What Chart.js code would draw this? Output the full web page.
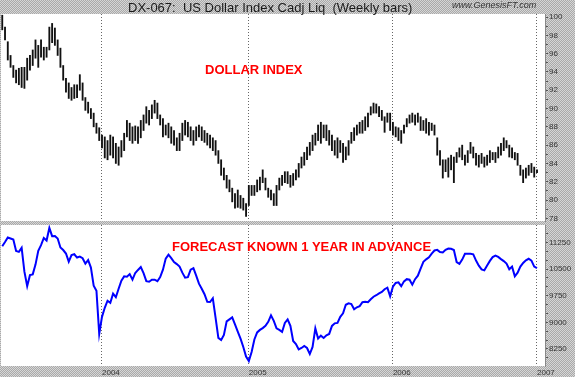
<!DOCTYPE html>
<html lang="en">
<head>
<meta charset="UTF-8" />
<title>DX-067 US Dollar Index</title>
<script src="https://cdn.jsdelivr.net/npm/chart.js"></script>
<style>
  html, body { margin: 0; padding: 0; }
  body {
    width: 575px;
    height: 377px;
    position: relative;
    overflow: hidden;
    background: repeating-conic-gradient(#a9a9a9 0 25%, #d6d6d6 0 50%) 0 0 / 2px 2px;
    font-family: "Liberation Sans", Arial, sans-serif;
  }
  canvas { position: absolute; left: 0; }
  #topChart { top: 0; }
  #bottomChart { top: 217px; }
  .txt { position: absolute; white-space: pre; line-height: 13px; z-index: 5; }
  #title { left: 128px; top: 1px; font-size: 13px; color: #1a1a1a; }
  #site { left: 452px; top: 1px; font-size: 9px; font-style: italic; color: #333; line-height: 9px; }
  .red { color: #f00; font-weight: bold; font-size: 13px; }
  #lab1 { left: 205px; top: 63px; }
  #lab2 { left: 172px; top: 240px; }
</style>
</head>
<body>
  <canvas id="topChart" width="575" height="230"></canvas>
  <canvas id="bottomChart" width="575" height="160"></canvas>
  <div class="txt" id="title">DX-067:  US Dollar Index Cadj Liq  (Weekly bars)</div>
  <div class="txt" id="site">www.GenesisFT.com</div>
  <div class="txt red" id="lab1">DOLLAR INDEX</div>
  <div class="txt red" id="lab2">FORECAST KNOWN 1 YEAR IN ADVANCE</div>

<script>
  // first weekly bar (week ending Friday)
  const firstWeek = '2003-04-25';

  // US Dollar Index, weekly high / low
  const dxHigh = [
    100.2, 98.9, 97.3, 95.8, 94.7, 94.2, 94.4, 94.5, 94.5, 95.5,
    95.8, 96.4, 97.5, 96.9, 97.5, 96.7, 96.7, 98.9, 99.3, 98.8,
    97.5, 96.6, 94.7, 93.3, 92.8, 92.3, 92.6, 92.6, 93.7, 92.8,
    91.2, 90.7, 90.0, 89.5, 88.4, 87.9, 87.1, 86.9, 86.5, 87.1,
    86.9, 86.2, 85.8, 86.5, 87.3, 88.7, 88.4, 88.0, 88.1, 88.0,
    88.7, 89.3, 90.2, 89.8, 90.4, 90.9, 90.6, 89.3, 88.9, 88.2,
    88.4, 88.0, 87.6, 86.8, 87.3, 88.4, 88.7, 88.5, 88.0, 87.6,
    88.0, 88.2, 88.0, 87.6, 87.3, 87.1, 86.8, 86.5, 85.4, 84.4,
    83.5, 82.7, 82.2, 81.3, 80.7, 81.1, 80.5, 80.2, 79.6, 81.6,
    81.6, 81.6, 82.2, 82.5, 83.3, 82.4, 81.3, 81.1, 80.7, 81.6,
    82.4, 82.7, 83.1, 83.1, 82.7, 82.9, 83.3, 84.0, 84.7, 85.2,
    85.8, 86.3, 87.1, 87.3, 88.2, 88.5, 88.2, 88.2, 87.6, 87.1,
    86.5, 86.8, 86.5, 86.2, 85.8, 86.5, 87.4, 87.9, 88.2, 88.5,
    88.7, 89.1, 89.5, 90.2, 90.6, 90.5, 90.2, 89.8, 89.1, 89.5,
    89.5, 88.5, 88.0, 87.9, 87.6, 88.2, 88.9, 89.3, 89.5, 89.3,
    89.5, 89.1, 88.7, 88.9, 88.5, 88.4, 88.2, 86.8, 85.4, 84.4,
    84.4, 84.6, 84.9, 84.7, 85.2, 85.7, 86.0, 84.9, 85.4, 86.3,
    85.8, 85.1, 84.9, 85.1, 84.7, 84.9, 85.4, 85.2, 85.2, 85.8,
    86.2, 86.8, 86.5, 86.0, 85.7, 85.2, 85.1, 83.8, 83.3, 83.5,
    83.8, 84.0, 83.6, 83.3
  ];
  const dxLow = [
    98.6, 97.5, 95.3, 94.5, 93.4, 92.8, 92.6, 92.3, 92.2, 93.1,
    94.2, 94.7, 95.5, 94.5, 95.6, 95.3, 95.6, 96.4, 97.2, 96.9,
    95.8, 94.5, 93.1, 91.8, 91.1, 90.9, 91.1, 91.2, 92.0, 90.9,
    89.8, 89.5, 88.9, 88.0, 87.3, 86.5, 85.7, 84.6, 84.4, 84.9,
    84.6, 84.0, 83.8, 84.7, 85.4, 86.9, 86.5, 86.2, 86.5, 86.2,
    86.8, 87.6, 88.4, 88.2, 88.9, 89.5, 88.9, 88.2, 86.9, 87.1,
    86.8, 86.2, 86.0, 85.4, 85.4, 86.5, 87.1, 86.9, 86.5, 86.0,
    86.5, 86.9, 86.5, 86.3, 86.0, 85.7, 85.4, 84.9, 84.0, 82.7,
    82.2, 81.3, 80.9, 79.8, 79.1, 79.2, 79.1, 78.9, 78.2, 79.4,
    80.5, 80.5, 80.9, 81.1, 81.9, 81.1, 80.3, 80.0, 79.4, 79.4,
    81.1, 81.6, 81.9, 81.8, 81.4, 81.6, 82.2, 82.5, 83.5, 83.8,
    84.4, 84.9, 85.4, 86.0, 86.5, 86.2, 86.8, 86.5, 86.0, 85.4,
    84.9, 84.6, 85.2, 84.1, 84.4, 84.9, 86.2, 86.5, 87.1, 87.3,
    87.3, 87.6, 88.0, 89.3, 89.5, 89.5, 89.1, 88.7, 87.4, 88.5,
    87.6, 87.1, 86.9, 86.5, 86.2, 87.3, 88.0, 88.4, 88.5, 88.2,
    88.5, 87.6, 87.6, 87.3, 87.1, 87.6, 87.1, 84.9, 83.8, 82.4,
    83.1, 82.5, 83.3, 81.9, 84.1, 84.7, 84.4, 83.8, 84.1, 85.1,
    84.6, 83.8, 83.6, 84.0, 83.6, 83.8, 84.1, 84.4, 84.1, 84.6,
    84.9, 85.4, 85.7, 84.7, 84.6, 84.4, 83.8, 82.7, 81.9, 82.4,
    82.7, 83.0, 82.5, 83.0
  ];

  // forecast series, one value per week
  const forecast = [
    11145, 11264, 11392, 11363, 11335, 11010, 10987, 11100, 10429, 10019,
    10330, 10353, 10627, 11015, 11174, 11377, 11306, 11661, 11428, 11434,
    11363, 11108, 11038, 10939, 10712, 10896, 10919, 10826, 10854, 10806,
    10656, 10755, 10543, 10033, 9892, 8675, 9156, 9410, 9609, 9552,
    9807, 9708, 9948, 10175, 10296, 10288, 10359, 10203, 10392, 10477,
    10557, 10387, 10160, 10146, 10203, 10203, 10160, 10274, 10486, 10797,
    10910, 10811, 10698, 10641, 10571, 10401, 10260, 10274, 10486, 10528,
    10316, 10090, 9948, 9792, 9580, 9572, 9679, 9128, 8562, 8505,
    8646, 9028, 9085, 9142, 8944, 8740, 8542, 8307, 8038, 7911,
    8165, 8519, 8717, 8788, 8839, 8901, 9014, 9198, 9043, 8830,
    8788, 8731, 8986, 9085, 8901, 8477, 8392, 8236, 8279, 8335,
    8279, 8109, 8307, 8830, 8547, 8627, 8562, 8638, 8675, 8901,
    8972, 8986, 9156, 9255, 9495, 9538, 9515, 9368, 9425, 9459,
    9566, 9580, 9566, 9651, 9722, 9764, 9815, 9858, 9934, 9977,
    9736, 10005, 10110, 10127, 10019, 10155, 10217, 10203, 10061, 10217,
    10316, 10514, 10704, 10775, 10831, 10939, 11024, 11043, 10981, 10967,
    11043, 11080, 11072, 11038, 10698, 10647, 10769, 10930, 10930, 10930,
    10916, 10741, 10599, 10494, 10466, 10599, 10732, 10840, 10882, 10845,
    10783, 10727, 10656, 10497, 10571, 10296, 10401, 10571, 10675, 10749,
    10792, 10741, 10571, 10528
  ];

  const dxTicks = [78, 79, 80, 81, 82, 83, 84, 85, 86, 87, 88, 89, 90, 91, 92, 93, 94, 95, 96, 97, 98, 99, 100];
  const fcTicks = [8000, 8250, 8500, 8750, 9000, 9250, 9500, 9750, 10000, 10250, 10500, 10750, 11000, 11250, 11500];

  // week ending dates, and the first bar of each new year
  const weekDates = dxHigh.map((_, i) => {
    const d = new Date(firstWeek + 'T00:00:00Z');
    d.setUTCDate(d.getUTCDate() + 7 * i);
    return d;
  });
  const yearStarts = [];
  weekDates.forEach((d, i) => {
    if (i > 0 && d.getUTCFullYear() !== weekDates[i - 1].getUTCFullYear()) yearStarts.push(i);
  });

  const xMin = -0.45, xMax = 195.89;

  const whitePlot = {
    id: 'whitePlot',
    beforeDraw(chart) {
      const { ctx, chartArea: a } = chart;
      ctx.save();
      ctx.fillStyle = '#fff';
      ctx.fillRect(a.left, a.top, a.right - a.left, a.bottom - a.top);
      ctx.restore();
    }
  };

  const xAxis = (showLabels) => ({
    type: 'linear',
    min: xMin,
    max: xMax,
    offset: false,
    afterBuildTicks: s => { s.ticks = yearStarts.map(v => ({ value: v })); },
    afterFit: s => { s.height = showLabels ? 11 : 0; },
    ticks: {
      display: showLabels,
      autoSkip: false,
      maxRotation: 0,
      align: 'start',
      padding: 2,
      color: '#333',
      font: { size: 8, family: 'Liberation Sans' },
      callback: v => String(weekDates[v].getUTCFullYear())
    },
    grid: { color: '#666', lineWidth: 1, drawTicks: false, offset: false },
    border: { display: false, dash: [1, 2] }
  });

  const yAxis = (min, max, ticks, labelEvery) => ({
    position: 'right',
    min: min,
    max: max,
    afterFit: s => { s.width = 30; },
    afterBuildTicks: s => { s.ticks = ticks.map(v => ({ value: v })); },
    ticks: {
      autoSkip: false,
      padding: 1,
      color: '#333',
      font: { size: 8, family: 'Liberation Sans' },
      callback: v => (v % labelEvery === 0 ? String(v) : '')
    },
    grid: { drawOnChartArea: false, drawTicks: true, tickLength: 3, color: '#555' },
    border: { display: true, color: '#888' }
  });

  new Chart(document.getElementById('topChart'), {
    type: 'bar',
    data: {
      datasets: [{
        label: 'DX-067',
        data: weekDates.map((_, i) => ({ x: i, y: [dxLow[i], dxHigh[i]] })),
        backgroundColor: '#111',
        borderWidth: 0,
        barThickness: 1.2,
        grouped: false
      }]
    },
    options: {
      responsive: false,
      animation: false,
      devicePixelRatio: 1,
      layout: { padding: { left: 1, right: 0, top: 14, bottom: 9 } },
      plugins: { legend: { display: false }, tooltip: { enabled: false } },
      scales: {
        x: xAxis(false),
        y: yAxis(77.71, 100.33, dxTicks, 2)
      }
    },
    plugins: [whitePlot]
  });

  new Chart(document.getElementById('bottomChart'), {
    type: 'line',
    data: {
      datasets: [{
        label: 'Forecast',
        data: weekDates.map((_, i) => ({ x: i, y: forecast[i] })),
        borderColor: '#0000ff',
        borderWidth: 2,
        pointRadius: 0,
        tension: 0,
        fill: false
      }]
    },
    options: {
      responsive: false,
      animation: false,
      devicePixelRatio: 1,
      layout: { padding: { left: 1, right: 0, top: 8, bottom: 0 } },
      plugins: { legend: { display: false }, tooltip: { enabled: false } },
      scales: {
        x: xAxis(true),
        y: yAxis(7771, 11743, fcTicks, 750)
      }
    },
    plugins: [whitePlot]
  });
</script>
</body>
</html>
